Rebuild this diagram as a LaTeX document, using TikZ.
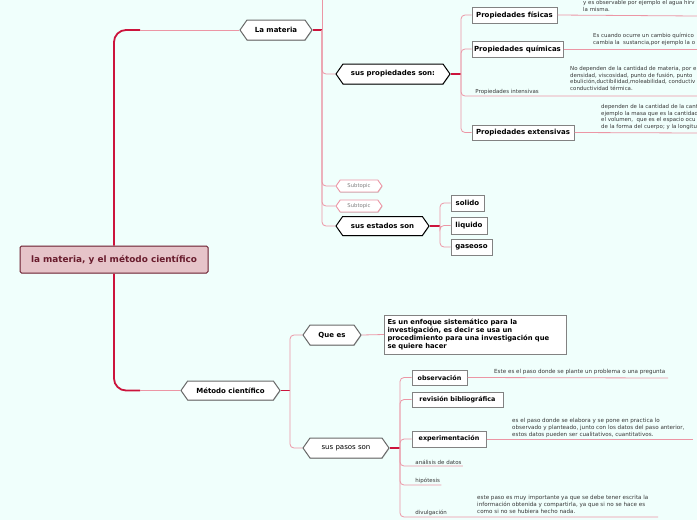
\documentclass[tikz,border=0pt]{standalone}
\usepackage{fontspec}
\setmainfont{DejaVu Sans}
\usetikzlibrary{shapes.symbols,shadows}

\definecolor{bgmint}{RGB}{240,255,252}
\definecolor{hotred}{RGB}{204,20,60}
\definecolor{pinkline}{RGB}{236,150,165}
\definecolor{hexgray}{RGB}{105,105,105}
\definecolor{boxgray}{RGB}{130,130,130}
\definecolor{rootfill}{RGB}{230,196,201}
\definecolor{rootline}{RGB}{105,28,45}
\definecolor{desctext}{RGB}{55,55,55}

\begin{document}
\begin{tikzpicture}[x=1pt,y=-1pt,
  hexa/.style={signal, signal to=east and west, signal pointer angle=110, draw=hexgray, line width=1pt, fill=white, inner sep=1pt, font=\fontsize{7}{8}\selectfont\bfseries, drop shadow={shadow xshift=0.4pt, shadow yshift=-0.9pt, opacity=0.35}},
  subhexa/.style={hexa, draw=pinkline, line width=0.9pt, text=gray, font=\fontsize{5.3}{6}\selectfont, drop shadow={opacity=0}},
  tbox/.style={draw=boxgray, line width=1pt, fill=white, inner sep=1pt, font=\fontsize{7}{8}\selectfont\bfseries},
  sbox/.style={tbox, font=\fontsize{6.4}{7}\selectfont\bfseries},
  leaf/.style={anchor=south west, inner sep=1.2pt, text=desctext, font=\fontsize{5.5}{6}\selectfont},
  desc/.style={anchor=north west, inner sep=0pt, align=left, text=desctext, font=\fontsize{5.45}{6.8}\selectfont},
  sdesc/.style={desc, font=\fontsize{5.6}{6.8}\selectfont},
  trunk/.style={hotred, line width=1.8pt, rounded corners=12pt},
  hot/.style={hotred, line width=1.2pt},
  link/.style={pinkline, line width=0.8pt, rounded corners=4pt}
]
\useasboundingbox (0,0) rectangle (697,520);
\fill[bgmint] (0,0) rectangle (697,520);
\clip (0,0) rectangle (697,520);

% root
\node[draw=rootline, fill=rootfill, line width=1pt, rounded corners=1.5pt, minimum width=188pt, minimum height=27pt, text=rootline, font=\fontsize{8.9}{10}\selectfont\bfseries] (root) at (114,259.5) {la materia, y el método científico};

% la materia
\node[hexa, minimum width=72pt, minimum height=20pt] (lm) at (276,30) {La materia};
\node[hexa, draw=black, minimum width=114pt, minimum height=20pt] (sp) at (393,74) {sus propiedades son:};
\node[tbox, minimum width=85pt, minimum height=16pt] (pf) at (514.5,15) {Propiedades físicas};
\node[tbox, minimum width=91pt, minimum height=16pt] (pq) at (517.5,49) {Propiedades químicas};
\node[leaf] (pi) at (474,96) {Propiedades intensivas};
\node[tbox, minimum width=102pt, minimum height=15pt] (pe) at (523,132.5) {Propiedades extensivas};
\node[subhexa, minimum width=46pt, minimum height=12pt] (st1) at (359,186) {Subtopic};
\node[subhexa, minimum width=46pt, minimum height=12pt] (st2) at (359,206) {Subtopic};
\node[hexa, draw=black, minimum width=93pt, minimum height=19pt] (se) at (382.5,226) {sus estados son};
\node[tbox, minimum width=33pt, minimum height=16pt] (so) at (467.5,203) {solido};
\node[tbox, minimum width=36pt, minimum height=17pt] (li) at (469,225.5) {liquido};
\node[tbox, minimum width=41pt, minimum height=16pt] (ga) at (471.5,247) {gaseoso};

\node[desc] (pfd) at (583,0) {y es observable por ejemplo el agua hirv\\la misma.};
\node[desc] (pqd) at (593,33) {Es cuando ocurre un cambio químico\\cambia la \ sustancia,por ejemplo la o};
\node[desc] (pid) at (570,66) {No dependen de la cantidad de materia, por e\\densidad, viscosidad, punto de fusión, punto\\ebulición,ductibilidad,moleabilidad, conductiv\\conductividad térmica.};
\node[desc] (ped) at (601,104) {dependen de la cantidad de la cant\\ejemplo la masa que es la cantidad\\el volumen, \ que es el espacio ocu\\de la forma del cuerpo; y la longitu};

% metodo cientifico
\node[hexa, minimum width=99pt, minimum height=19pt] (mc) at (230.5,390.5) {Método científico};
\node[hexa, minimum width=58pt, minimum height=20pt] (qe) at (332,335) {Que es};
\node[tbox, font=\fontsize{6.8}{8}\selectfont\bfseries, align=left, text width=176pt, inner sep=3pt, minimum height=39pt] (def) at (475.5,334.5) {Es un enfoque sistemático para la\\investigación, es decir se usa un\\procedimiento para una investigación que\\se quiere hacer};
\node[hexa, font=\fontsize{7}{8}\selectfont, minimum width=86pt, minimum height=20pt] (pp) at (346,448) {sus pasos son};
\node[sbox, minimum width=55pt, minimum height=15pt] (ob) at (439.5,377.5) {observación};
\node[sbox, minimum width=91pt, minimum height=15pt] (rb) at (457.5,399.5) {revisión bibliográfica};
\node[sbox, minimum width=74pt, minimum height=16pt] (ex) at (449,439) {experimentación};
\node[leaf] (ad) at (414,466) {análisis de datos};
\node[leaf] (hi) at (414,485) {hipótesis};
\node[leaf] (dv) at (414,517) {divulgación};

\node[sdesc] (obd) at (494,369) {Este es el paso donde se plante un problema o una pregunta};
\node[sdesc] (exd) at (512,418) {es el paso donde se elabora y se pone en practica lo\\observado y planteado, junto con los datos del paso anterior,\\estos datos pueden ser cualitativos, cuantitativos.};
\node[sdesc] (dvd) at (477,495) {este paso es muy importante ya que se debe tener escrita la\\información obtenida y compartirla, ya que si no se hace es\\como si no se hubiera hecho nada.};

% junctions and free ends
\coordinate (lmj) at (322,30);
\coordinate (lmtop) at (322,0);
\coordinate (spj) at (461,74);
\coordinate (sej) at (440,226);
\coordinate (mcj) at (290,390.5);
\coordinate (ppj) at (400,448);
\coordinate (lmc) at (140,30);
\coordinate (mcc) at (140,390.5);
\coordinate (pfe) at (697,16);
\coordinate (pqe) at (697,49);
\coordinate (pie) at (697,96);
\coordinate (pee) at (697,133);
\coordinate (obe) at (668,378);
\coordinate (exe) at (693,439);
\coordinate (dve) at (658,517);

% trunk
\draw[trunk] (root.north) |- (lmc);
\draw[trunk] (root.south) |- (mcc);
\draw[link] (lmc) -- (lm.west);
\draw[link] (mcc) -- (mc.west);

% branches of la materia
\draw[hot] (lm.east) -- (lmj);
\draw[link] (lmj) -- (lmtop);
\foreach \c in {sp,st1,st2,se} \draw[link] (lmj) |- (\c.west);
\draw[hot] (sp.east) -- (spj);
\foreach \c in {pf,pq,pe} \draw[link] (spj) |- (\c.west);
\draw[link] (spj) |- (pi.south west) -- (pie);
\draw[link] (pf.east) -- (pfe);
\draw[link] (pq.east) -- (pqe);
\draw[link] (pe.east) -- (pee);
\draw[hot] (se.east) -- (sej);
\foreach \c in {so,li,ga} \draw[link] (sej) |- (\c.west);

% branches of metodo cientifico
\draw[hot] (mc.east) -- (mcj);
\foreach \c in {qe,pp} \draw[link] (mcj) |- (\c.west);
\draw[link] (qe.east) -- (def.west);
\draw[hot] (pp.east) -- (ppj);
\foreach \c in {ob,rb,ex} \draw[link] (ppj) |- (\c.west);
\draw[link] (ppj) |- (ad.south west) -- (ad.south east);
\draw[link] (ppj) |- (hi.south west) -- (hi.south east);
\draw[link] (ppj) |- (dv.south west) -- (dve);
\draw[link] (ob.east) -- (obe);
\draw[link] (ex.east) -- (exe);
\end{tikzpicture}
\end{document}
